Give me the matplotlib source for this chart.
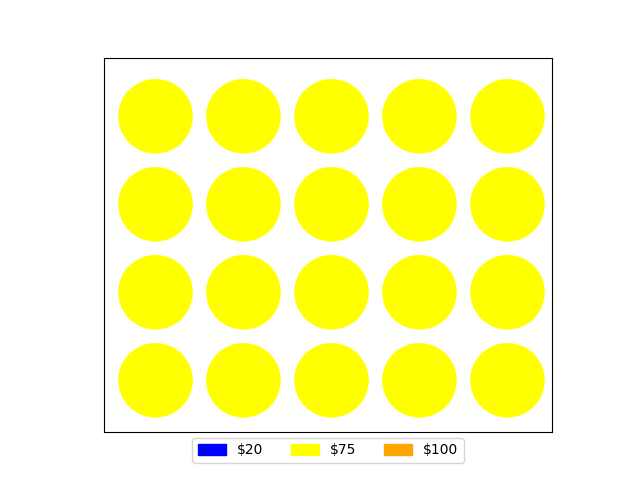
import matplotlib.pyplot as plt
from matplotlib.patches import Circle, Patch

labels = ["$20", "$75", "$100"]
counts = [0, 20, 0]
colors = ["blue", "yellow", "orange"]

rows = 4
cols = 5


def main():
    fig = plt.figure(figsize=(6.4, 4.8), dpi=100)
    ax = fig.add_axes([0.1625, 0.1, 0.7, 0.779])

    # fill the grid row by row from the top left
    cells = []
    for lab, n, c in zip(labels, counts, colors):
        cells += [c] * n

    for i, c in enumerate(cells):
        col = i % cols
        row = rows - 1 - i // cols
        ax.add_patch(Circle((col, row), 0.424, color=c, lw=0))

    ax.set_xlim(-0.585, 4.506)
    ax.set_ylim(-0.588, 3.662)
    ax.set_xticks([])
    ax.set_yticks([])

    handles = [Patch(color=c, label=l) for l, c in zip(labels, colors)]
    ax.legend(handles=handles, loc="upper center", bbox_to_anchor=(0.5, 0.0),
              ncol=3, borderaxespad=0.42, columnspacing=2.0, handleheight=0.8)

    fig.savefig("out.png")


if __name__ == "__main__":
    main()
